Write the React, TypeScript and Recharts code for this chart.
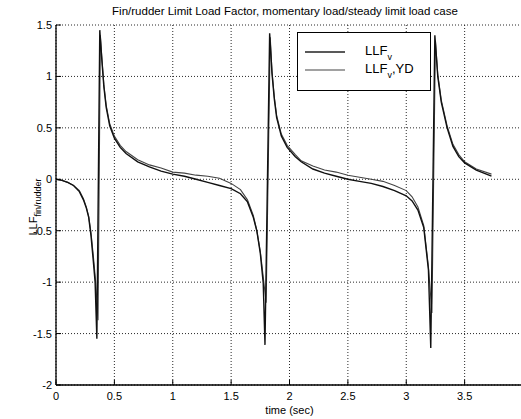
import React from "react";
import { LineChart, Line, XAxis, YAxis, CartesianGrid } from "recharts";

const chartTitle = "Fin/rudder Limit Load Factor, momentary load/steady limit load case";
const xTicks = [0, 0.5, 1, 1.5, 2, 2.5, 3, 3.5, 4];
const yTicks = [-2, -1.5, -1, -0.5, 0, 0.5, 1, 1.5];

const timeA = [0, 0.05, 0.1, 0.15, 0.2, 0.235, 0.26, 0.28, 0.3, 0.32, 0.335, 0.35, 0.375, 0.39, 0.41, 0.43, 0.46, 0.5, 0.55, 0.6, 0.7, 0.8, 0.9, 1.0, 1.1, 1.2, 1.3, 1.4, 1.5, 1.58, 1.64, 1.69, 1.72, 1.75, 1.775, 1.79, 1.83, 1.85, 1.87, 1.89, 1.93, 1.98, 2.05, 2.1, 2.2, 2.3, 2.4, 2.5, 2.6, 2.7, 2.8, 2.9, 3.0, 3.05, 3.1, 3.15, 3.19, 3.21, 3.245, 3.27, 3.3, 3.35, 3.4, 3.45, 3.5, 3.6, 3.73];
const llfV = [0, -0.01, -0.03, -0.06, -0.12, -0.2, -0.28, -0.37, -0.55, -0.8, -1.0, -1.55, 1.45, 1.2, 0.9, 0.7, 0.52, 0.4, 0.31, 0.25, 0.17, 0.12, 0.08, 0.05, 0.03, 0.0, -0.03, -0.06, -0.09, -0.14, -0.22, -0.37, -0.5, -0.72, -1.01, -1.61, 1.42, 1.03, 0.78, 0.6, 0.42, 0.31, 0.22, 0.17, 0.1, 0.06, 0.03, 0.0, -0.02, -0.04, -0.07, -0.11, -0.16, -0.21, -0.3, -0.47, -0.88, -1.64, 1.4, 1.0, 0.75, 0.5, 0.32, 0.22, 0.16, 0.09, 0.03];

const timeB = [0, 0.05, 0.1, 0.15, 0.2, 0.235, 0.26, 0.28, 0.3, 0.32, 0.34, 0.36, 0.38, 0.395, 0.41, 0.43, 0.46, 0.5, 0.55, 0.6, 0.7, 0.8, 0.9, 1.0, 1.1, 1.2, 1.3, 1.4, 1.5, 1.58, 1.64, 1.69, 1.72, 1.75, 1.78, 1.8, 1.835, 1.85, 1.87, 1.89, 1.93, 1.98, 2.05, 2.1, 2.2, 2.3, 2.4, 2.5, 2.6, 2.7, 2.8, 2.9, 3.0, 3.05, 3.1, 3.15, 3.19, 3.22, 3.25, 3.27, 3.3, 3.35, 3.4, 3.45, 3.5, 3.6, 3.73];
const llfVYD = [0, -0.01, -0.03, -0.06, -0.11, -0.19, -0.27, -0.36, -0.52, -0.75, -1.0, -1.37, 1.4, 1.15, 0.92, 0.72, 0.54, 0.42, 0.33, 0.27, 0.19, 0.14, 0.11, 0.07, 0.06, 0.04, 0.03, 0.01, -0.04, -0.1, -0.2, -0.35, -0.5, -0.7, -1.0, -1.2, 1.38, 1.05, 0.8, 0.62, 0.44, 0.33, 0.24, 0.18, 0.13, 0.09, 0.07, 0.04, 0.02, 0.0, -0.02, -0.06, -0.11, -0.17, -0.27, -0.45, -0.85, -1.3, 1.35, 1.02, 0.77, 0.52, 0.34, 0.24, 0.17, 0.1, 0.05];

const dataA = timeA.map((t, i) => ({ t, v: llfV[i] }));
const dataB = timeB.map((t, i) => ({ t, v: llfVYD[i] }));

const FONT = "'Liberation Sans', Arial, sans-serif";

const BottomTick = (props: any) => {
  const { x, y, payload } = props;
  return (
    <g>
      <line x1={x} y1={y} x2={x} y2={y - 5} stroke="#000" />
      {payload.value < 4 && (
        <text x={x} y={y + 15} textAnchor="middle" fontSize={11} fontFamily={FONT} fill="#000">
          {String(payload.value)}
        </text>
      )}
    </g>
  );
};
const TopTick = (props: any) => {
  const { x, y } = props;
  return <line x1={x} y1={y} x2={x} y2={y + 5} stroke="#000" />;
};
const LeftTick = (props: any) => {
  const { x, y, payload } = props;
  return (
    <g>
      <line x1={x} y1={y} x2={x + 5} y2={y} stroke="#000" />
      <text x={x - 4} y={y + 4} textAnchor="end" fontSize={11} fontFamily={FONT} fill="#000">
        {String(payload.value)}
      </text>
    </g>
  );
};
const RightTick = (props: any) => {
  const { x, y } = props;
  return <line x1={x} y1={y} x2={x - 5} y2={y} stroke="#000" />;
};

const LegendBox = () => (
  <svg width={134} height={59} style={{ display: "block" }}>
    <rect x={0.5} y={0.5} width={133} height={58} fill="#fff" stroke="#000" />
    <line x1={8} y1={20} x2={48} y2={20} stroke="#222" strokeWidth={1.5} />
    <line x1={8} y1={38} x2={48} y2={38} stroke="#444" strokeWidth={1.2} />
    <text x={68} y={23} fontSize={13} fontFamily={FONT} fill="#000">
      LLF<tspan fontSize={9} dy={5}>v</tspan>
    </text>
    <text x={68} y={41} fontSize={13} fontFamily={FONT} fill="#000">
      LLF<tspan fontSize={9} dy={5}>v</tspan>
      <tspan dy={-5}>,YD</tspan>
    </text>
  </svg>
);

export default function App() {
  return (
    <div style={{ position: "absolute", left: 0, top: 0, width: 521, height: 419, overflow: "hidden", background: "#fff" }}>
      <LineChart width={540} height={419} margin={{ top: 25, right: 17, bottom: 0, left: 0 }}>
        <CartesianGrid
          xAxisId="b"
          yAxisId="l"
          stroke="#111"
          strokeDasharray="1 2"
          strokeWidth={0.9}
          horizontalValues={yTicks}
          verticalValues={xTicks}
        />
        <XAxis
          xAxisId="b"
          dataKey="t"
          type="number"
          domain={[0, 4]}
          ticks={xTicks}
          allowDataOverflow
          height={34}
          tickSize={0}
          tickMargin={0}
          tickLine={false}
          tick={<BottomTick />}
          axisLine={{ stroke: "#000", strokeWidth: 1.3 }}
          interval={0}
          label={{ value: "time (sec)", position: "insideBottom", offset: 5, fontSize: 11, fontFamily: FONT, fill: "#000" }}
        />
        <XAxis
          xAxisId="t"
          orientation="top"
          dataKey="t"
          type="number"
          domain={[0, 4]}
          ticks={xTicks}
          height={0}
          tickSize={0}
          tickMargin={0}
          tickLine={false}
          tick={<TopTick />}
          interval={0}
          axisLine={{ stroke: "#000", strokeWidth: 1.3 }}
        />
        <YAxis
          yAxisId="l"
          type="number"
          domain={[-2, 1.5]}
          ticks={yTicks}
          allowDataOverflow
          width={56}
          tickSize={0}
          tickMargin={0}
          tickLine={false}
          tick={<LeftTick />}
          interval={0}
          axisLine={{ stroke: "#000", strokeWidth: 1.3 }}
          label={(p: any) => (
            <text
              transform="translate(37, 207) rotate(-90)"
              textAnchor="middle"
              fontSize={11}
              fontFamily={FONT}
              fill="#000"
            >
              LLF<tspan fontSize={9} dy={4}>fin/rudder</tspan>
            </text>
          )}
        />
        <YAxis
          yAxisId="r"
          orientation="right"
          type="number"
          domain={[-2, 1.5]}
          ticks={yTicks}
          width={0}
          tickSize={0}
          tickMargin={0}
          tickLine={false}
          tick={<RightTick />}
          interval={0}
          axisLine={{ stroke: "#000", strokeWidth: 1.3 }}
        />
        <Line
          xAxisId="b"
          yAxisId="l"
          data={dataB}
          dataKey="v"
          name="LLF_v,YD"
          type="linear"
          stroke="#444"
          strokeWidth={1.1}
          dot={false}
          isAnimationActive={false}
        />
        <Line
          xAxisId="b"
          yAxisId="l"
          data={dataA}
          dataKey="v"
          name="LLF_v"
          type="linear"
          stroke="#111"
          strokeWidth={1.4}
          dot={false}
          isAnimationActive={false}
        />
        <text x={285} y={15} textAnchor="middle" fontSize={11.5} fontFamily={FONT} fill="#000">
          {chartTitle}
        </text>
      </LineChart>
      <div style={{ position: "absolute", left: 297, top: 32 }}>
        <LegendBox />
      </div>
    </div>
  );
}
